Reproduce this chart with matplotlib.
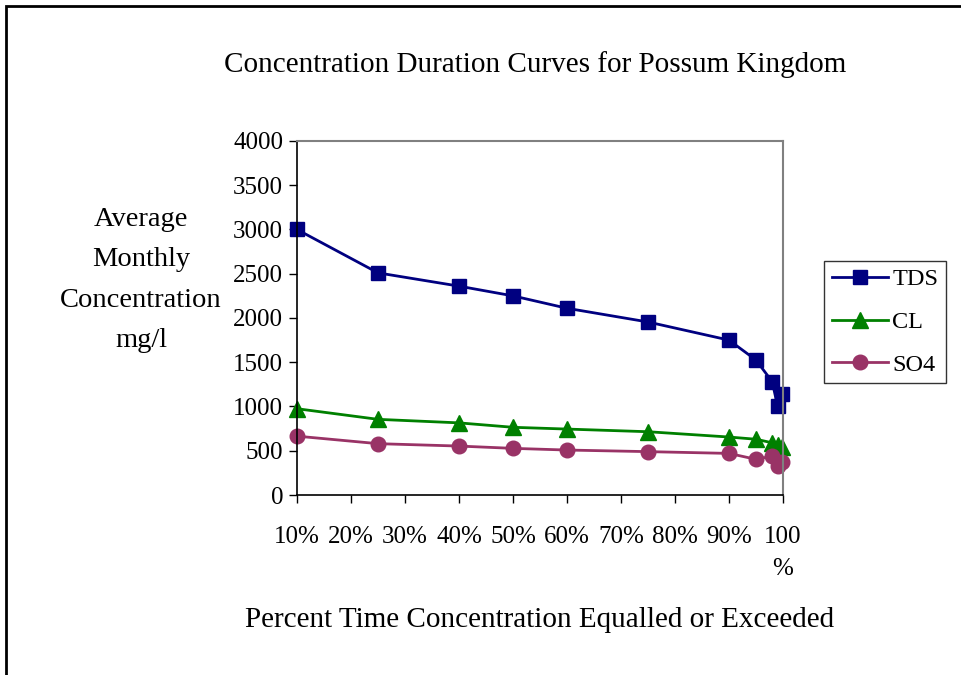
import matplotlib
matplotlib.use("Agg")
import matplotlib.pyplot as plt
from matplotlib.patches import Rectangle
from matplotlib.ticker import FixedLocator, FixedFormatter

# percent of time equalled or exceeded
pct = [10, 25, 40, 50, 60, 75, 90, 95, 98, 99, 99.9]
tds = [3000, 2510, 2360, 2250, 2110, 1955, 1750, 1525, 1280, 1005, 1140]
cl = [975, 855, 815, 765, 745, 715, 655, 630, 590, 565, 545]
so4 = [665, 580, 553, 527, 508, 490, 470, 403, 440, 330, 370]

x_ticks = [10, 20, 30, 40, 50, 60, 70, 80, 90, 100]
x_labels = ["10%", "20%", "30%", "40%", "50%", "60%", "70%", "80%", "90%", "100\n%"]
y_ticks = [0, 500, 1000, 1500, 2000, 2500, 3000, 3500, 4000]

plt.rcParams["font.family"] = ["Liberation Serif", "DejaVu Serif"]

fig = plt.figure(figsize=(9.61, 6.75), dpi=100)

# outer chart frame (open at right and bottom, as in the original crop)
fig.patches.append(Rectangle((6 / 961, -0.1), 1.1, 1.1 - 6 / 675,
                             transform=fig.transFigure, fill=False,
                             edgecolor="black", linewidth=2))

ax = fig.add_axes([297 / 961, 1 - 495 / 675, (783 - 297) / 961, (495 - 141) / 675])

ax.plot(pct, tds, color="#000080", marker="s", markersize=10, linewidth=2,
        label="TDS", clip_on=False)
ax.plot(pct, cl, color="#008000", marker="^", markersize=11, linewidth=2,
        label="CL", clip_on=False)
ax.plot(pct, so4, color="#993366", marker="o", markersize=10.5, linewidth=2,
        label="SO4", clip_on=False)

ax.set_xlim(10, 100)
ax.set_ylim(0, 4000)
ax.xaxis.set_major_locator(FixedLocator(x_ticks))
ax.xaxis.set_major_formatter(FixedFormatter(x_labels))
ax.set_yticks(y_ticks)

for side in ("top", "right"):
    ax.spines[side].set_color("#808080")
    ax.spines[side].set_linewidth(1.5)
for side in ("left", "bottom"):
    ax.spines[side].set_color("black")
    ax.spines[side].set_linewidth(1.2)

ax.tick_params(axis="both", direction="out", length=6, width=1, labelsize=18)
ax.tick_params(axis="x", pad=16)
ax.tick_params(axis="y", pad=4)
for lbl in ax.get_xticklabels():
    lbl.set_linespacing(1.6)
    lbl.set_verticalalignment("top")

fig.text(535 / 961, 1 - 65 / 675, "Concentration Duration Curves for Possum Kingdom",
         ha="center", va="center", fontsize=21)
fig.text(141 / 961, 1 - 280 / 675, "Average\nMonthly\nConcentration\nmg/l",
         ha="center", va="center", fontsize=20.5, linespacing=1.8)
fig.text(540 / 961, 1 - 620 / 675, "Percent Time Concentration Equalled or Exceeded",
         ha="center", va="center", fontsize=21)

leg = fig.legend(loc="center", bbox_to_anchor=(885 / 961, 1 - 322 / 675),
                 fontsize=17.5, frameon=True, fancybox=False, edgecolor="black",
                 handlelength=2.3, labelspacing=0.85, borderpad=0.32, handletextpad=0.2,
                 borderaxespad=0)
leg.get_frame().set_linewidth(1)

fig.savefig("out.png", dpi=100)
